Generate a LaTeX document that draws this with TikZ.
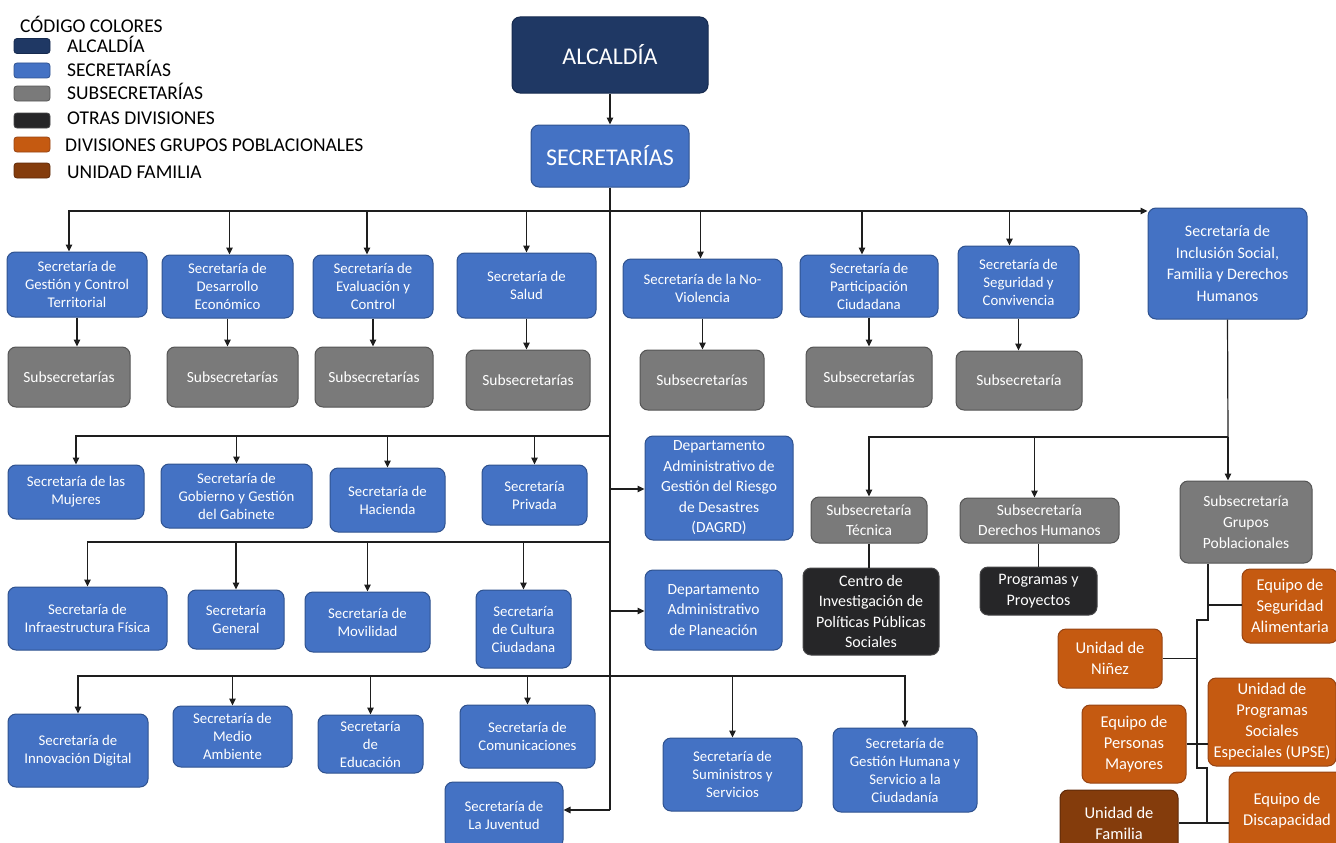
\documentclass[tikz,border=0pt]{standalone}
\usepackage{fontspec}
\setmainfont{Carlito}
\usetikzlibrary{arrows.meta}
\definecolor{cnavy}{RGB}{31,56,100}
\definecolor{cnavyb}{RGB}{22,42,78}
\definecolor{cblue}{RGB}{68,114,196}
\definecolor{cblueb}{RGB}{47,82,143}
\definecolor{cgray}{RGB}{122,122,122}
\definecolor{cgrayb}{RGB}{85,85,85}
\definecolor{cdark}{RGB}{38,38,40}
\definecolor{cdarkb}{RGB}{70,70,72}
\definecolor{corange}{RGB}{197,90,17}
\definecolor{corangeb}{RGB}{150,68,20}
\definecolor{cbrown}{RGB}{132,60,12}
\definecolor{cbrownb}{RGB}{95,42,10}
\definecolor{cline}{RGB}{30,30,30}
\begin{document}
\begin{tikzpicture}[x=1pt,y=-1pt,
  box/.style={rectangle, rounded corners=8pt, draw, line width=1pt, align=center, inner sep=0pt, text=white, font=\fontsize{14.8}{18}\selectfont},
  wh/.style 2 args={minimum width=#1pt, minimum height=#2pt},
  bl/.style={box, fill=cblue, draw=cblueb},
  gr/.style={box, fill=cgray, draw=cgrayb, font=\fontsize{15.5}{20}\selectfont},
  dk/.style={box, fill=cdark, draw=cdarkb, font=\fontsize{16}{20.5}\selectfont},
  org/.style={box, fill=corange, draw=corangeb, font=\fontsize{16.5}{21}\selectfont},
  brn/.style={box, fill=cbrown, draw=cbrownb, font=\fontsize{16.5}{21}\selectfont},
  sw/.style={rectangle, rounded corners=3pt, draw, line width=0.8pt, minimum width=36pt, minimum height=15pt, inner sep=0pt},
  leg/.style={anchor=base west, inner sep=0pt, font=\fontsize{19.5}{22}\selectfont, text=black},
  ln/.style={draw=cline, line width=1.2pt},
  arr/.style={ln, -{Triangle[length=7pt,width=6.5pt]}}
]
\useasboundingbox (0,0) rectangle (1336,843);
\clip (0,0) rectangle (1336,843);

% ---------- legend ----------
\node[leg] (legt) at (20,33) {CÓDIGO COLORES};
\node[sw, fill=cnavy, draw=cnavyb] (sw1) at (32,46) {};
\node[sw, fill=cblue, draw=cblueb] (sw2) at (32,70.5) {};
\node[sw, fill=cgray, draw=cgrayb] (sw3) at (32,93.5) {};
\node[sw, fill=cdark, draw=cdarkb] (sw4) at (32,120.5) {};
\node[sw, fill=corange, draw=corangeb] (sw5) at (32,144.5) {};
\node[sw, fill=cbrown, draw=cbrownb] (sw6) at (32,170.5) {};
\node[leg] (l1) at (67,53) {ALCALDÍA};
\node[leg] (l2) at (67,76.5) {SECRETARÍAS};
\node[leg] (l3) at (67,99.5) {SUBSECRETARÍAS};
\node[leg] (l4) at (67,124.5) {OTRAS DIVISIONES};
\node[leg] (l5) at (65,151) {DIVISIONES GRUPOS POBLACIONALES};
\node[leg] (l6) at (67,178) {UNIDAD FAMILIA};

% ---------- top ----------
\node[box, fill=cnavy, draw=cnavyb, wh={196}{76}, font=\fontsize{24}{28}\selectfont] (alc) at (610,55) {ALCALDÍA};
\node[bl, wh={158}{62}, font=\fontsize{24}{28}\selectfont] (sec) at (610,156) {SECRETARÍAS};

% ---------- row 1 ----------
\node[bl, wh={140}{65}] (r1a) at (77,284.5) {Secretaría de\\Gestión y Control\\Territorial};
\node[bl, wh={131}{63}] (r1b) at (227.5,286.5) {Secretaría de\\Desarrollo\\Económico};
\node[bl, wh={120}{63}] (r1c) at (373,286.5) {Secretaría de\\Evaluación y\\Control};
\node[bl, wh={139}{65}] (r1d) at (526.5,285.5) {Secretaría de\\Salud};
\node[bl, wh={159}{59}] (r1e) at (702.5,288.5) {Secretaría de la No-\\Violencia};
\node[bl, wh={138}{62}] (r1f) at (869,286) {Secretaría de\\Participación\\Ciudadana};
\node[bl, wh={121}{72}] (r1g) at (1018.5,282) {Secretaría de\\Seguridad y\\Convivencia};
\node[bl, wh={159}{111}, font=\fontsize{16}{21.5}\selectfont] (r1h) at (1227.5,263.5) {Secretaría de\\Inclusión Social,\\Familia y Derechos\\Humanos};

\node[gr, wh={122}{60}] (s1a) at (69,377) {Subsecretarías};
\node[gr, wh={131}{60}] (s1b) at (232.5,377) {Subsecretarías};
\node[gr, wh={118}{60}] (s1c) at (374,377) {Subsecretarías};
\node[gr, wh={124}{60}] (s1d) at (528,380) {Subsecretarías};
\node[gr, wh={124}{60}] (s1e) at (702,380) {Subsecretarías};
\node[gr, wh={126}{60}] (s1f) at (869,377) {Subsecretarías};
\node[gr, wh={126}{59}] (s1g) at (1019,380.5) {Subsecretaría};

% ---------- row 2 ----------
\node[bl, wh={136}{54}] (r2a) at (76,492) {Secretaría de las\\Mujeres};
\node[bl, wh={151}{64}] (r2b) at (236.5,496) {Secretaría de\\Gobierno y Gestión\\del Gabinete};
\node[bl, wh={115}{64}] (r2c) at (387.5,500) {Secretaría de\\Hacienda};
\node[bl, wh={105}{60}] (r2d) at (534.5,495) {Secretaría\\Privada};
\node[bl, wh={148}{104}, font=\fontsize{15.5}{20.5}\selectfont] (dagrd) at (719,488) {Departamento\\Administrativo de\\Gestión del Riesgo\\de Desastres\\(DAGRD)};
\node[bl, wh={137}{80}, font=\fontsize{15.5}{20.5}\selectfont] (plan) at (713.5,610) {Departamento\\Administrativo\\de Planeación};

% ---------- row 3 ----------
\node[bl, wh={159}{63}] (r3a) at (87.5,618.5) {Secretaría de\\Infraestructura Física};
\node[bl, wh={96}{59}] (r3b) at (236,619.5) {Secretaría\\General};
\node[bl, wh={125}{60}] (r3c) at (367.5,622) {Secretaría de\\Movilidad};
\node[bl, wh={95}{78}] (r3d) at (523.5,629) {Secretaría\\de Cultura\\Ciudadana};

% ---------- row 4 ----------
\node[bl, wh={140}{73}] (r4a) at (78,750.5) {Secretaría de\\Innovación Digital};
\node[bl, wh={119}{61}] (r4b) at (232.5,736.5) {Secretaría de\\Medio\\Ambiente};
\node[bl, wh={105}{58}] (r4c) at (370.5,744) {Secretaría\\de\\Educación};
\node[bl, wh={135}{63}] (r4d) at (527.5,736.5) {Secretaría de\\Comunicaciones};
\node[bl, wh={118}{66}] (r4e) at (504,815) {Secretaría de\\La Juventud};
\node[bl, wh={139}{73}] (r4f) at (732.5,774.5) {Secretaría de\\Suministros y\\Servicios};
\node[bl, wh={144}{84}] (r4g) at (905,770) {Secretaría de\\Gestión Humana y\\Servicio a la\\Ciudadanía};

% ---------- inclusion subtree ----------
\node[gr, wh={116}{46}] (tec) at (869,520) {Subsecretaría\\Técnica};
\node[gr, wh={159}{45}] (ddhh) at (1039.5,520.5) {Subsecretaría\\Derechos Humanos};
\node[gr, wh={132}{82}, font=\fontsize{15.5}{21}\selectfont] (gp) at (1246,522) {Subsecretaría\\Grupos\\Poblacionales};
\node[dk, wh={136}{87}] (centro) at (871,611.5) {Centro de\\Investigación de\\Políticas Públicas\\Sociales};
\node[dk, wh={117}{48}] (prog) at (1038.5,591) {Programas y\\Proyectos};

\node[org, wh={96}{74}] (seg) at (1290,606) {Equipo de\\Seguridad\\Alimentaria};
\node[org, wh={104}{59}] (nin) at (1110,658.5) {Unidad de\\Niñez};
\node[org, wh={128}{88}] (upse) at (1272,722) {Unidad de\\Programas\\Sociales\\Especiales (UPSE)};
\node[org, wh={104}{78}] (pm) at (1134,744) {Equipo de\\Personas\\Mayores};
\node[org, wh={116}{78}] (disc) at (1287,811) {Equipo de\\Discapacidad};
\node[brn, wh={118}{66}] (fam) at (1119,823) {Unidad de\\Familia};

% ---------- connectors ----------
\draw[arr] (alc.south) -- (sec.north);
\coordinate (b1) at (610,211);
\coordinate (b2) at (610,436);
\coordinate (b3) at (610,542);
\coordinate (b4) at (610,676);
\coordinate (td) at (610,489);
\coordinate (tp) at (610,611);
\coordinate (tj) at (610,810);
\draw[ln] (sec.south) -- (tj);
\draw[arr] (tj) -- (tj -| r4e.east);

\draw[arr] (b1) -| ([xshift=-8pt]r1a.north);
\draw[arr] (b1) -| ([xshift=2pt]r1b.north);
\draw[arr] (b1) -| ([xshift=-6pt]r1c.north);
\draw[arr] (b1) -| (r1d.north);
\draw[arr] (b1) -| ([xshift=-2pt]r1e.north);
\draw[arr] (b1) -| ([xshift=-7pt]r1f.north);
\draw[arr] (b1) -| ([xshift=-9pt]r1g.north);
\draw[arr] (b1) -- (b1 -| r1h.west);

\draw[arr] (r1a.south) -- (r1a.south |- s1a.north);
\draw[arr] (r1b.south) -- (r1b.south |- s1b.north);
\draw[arr] (r1c.south) -- (r1c.south |- s1c.north);
\draw[arr] (r1d.south) -- (r1d.south |- s1d.north);
\draw[arr] (r1e.south) -- (r1e.south |- s1e.north);
\draw[arr] (r1f.south) -- (r1f.south |- s1f.north);
\draw[arr] (r1g.south) -- (r1g.south |- s1g.north);

\draw[arr] (b2) -| (r2a.north);
\draw[arr] (b2) -| (r2b.north);
\draw[arr] (b2) -| (r2c.north);
\draw[arr] (b2) -| (r2d.north);
\draw[arr] (td) -- (td -| dagrd.west);
\draw[arr] (tp) -- (tp -| plan.west);

\draw[arr] (b3) -| (r3a.north);
\draw[arr] (b3) -| (r3b.north);
\draw[arr] (b3) -| (r3c.north);
\draw[arr] (b3) -| (r3d.north);

\draw[arr] (b4) -| (r4a.north);
\draw[arr] (b4) -| (r4b.north);
\draw[arr] (b4) -| (r4c.north);
\draw[arr] (b4) -| (r4d.north);
\draw[arr] (b4) -| (r4f.north);
\draw[arr] (b4) -| (r4g.north);

\coordinate (b5) at (1228,437);
\draw[ln] (r1h.south) -- (b5);
\draw[arr] (b5) -| (tec.north);
\draw[arr] (b5) -| ([xshift=-5pt]ddhh.north);
\draw[arr] (b5) -- (b5 |- gp.north);
\draw[ln] (tec.south) -- (tec.south |- centro.north);
\draw[ln] ([xshift=-1pt]ddhh.south) -- ([xshift=-1pt]ddhh.south |- prog.north);

\coordinate (g1) at (1208,620);
\coordinate (g2) at (1197,620);
\coordinate (g3) at (1197,768);
\coordinate (g4) at (1207,768);
\draw[ln] ([xshift=-38pt]gp.south) -- (g1) -- (g2) -- (g3) -- (g4) -- (fam.east -| g4);
\draw[ln] (1208,605) -- (1208,605 -| seg.west);
\draw[ln] (nin.east) -- (nin.east -| g2);
\draw[ln] (pm.east) -- (pm.east -| upse.west);
\draw[ln] (fam.east) -- (fam.east -| disc.west);
\end{tikzpicture}
\end{document}
